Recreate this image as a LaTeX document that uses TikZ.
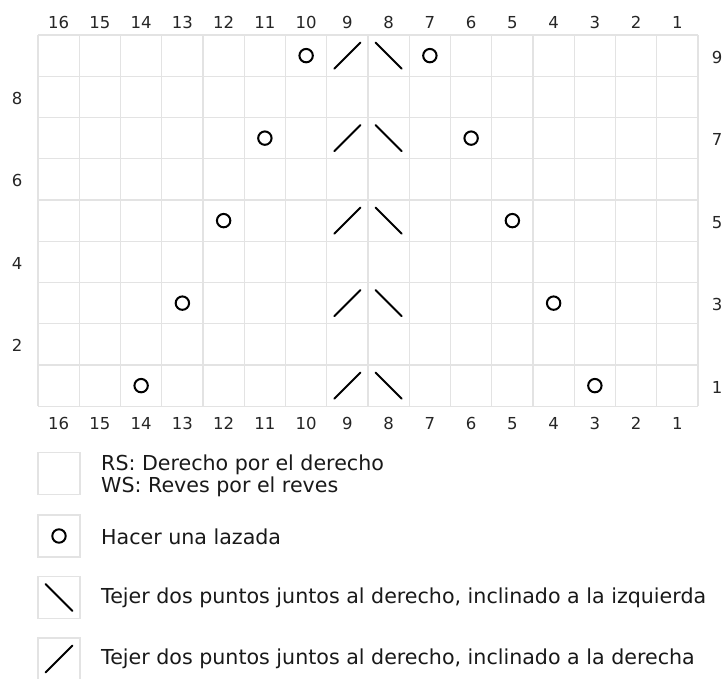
\documentclass[tikz,border=0pt]{standalone}
\usepackage{fontspec}
\setmainfont{DejaVu Sans}
\begin{document}
\begin{tikzpicture}[x=1pt,y=-1pt,
  gridline/.style={draw=black!11,line width=1.4pt},
  numlbl/.style={font=\fontsize{16.5}{19}\selectfont,text=black!85,inner sep=0pt,anchor=base},
  legtext/.style={font=\fontsize{20.6}{22}\selectfont,text=black!90,anchor=west,inner sep=0pt,align=left},
  yo/.style={draw=black,line width=2pt},
  k2/.style={draw=black,line width=2pt,line cap=round},
  legbox/.style={draw=black!11,line width=1.3pt,minimum width=42pt,minimum height=42pt,inner sep=0pt}]
\useasboundingbox (0,0) rectangle (727,678);
\fill[white] (0,0) rectangle (727,678);
\def\cw{41.25}
% grid
\foreach \i in {0,...,16} \draw[gridline] (38+\i*\cw,35) -- (38+\i*\cw,35+9*\cw);
\foreach \j in {0,...,9} \draw[gridline] (38,35+\j*\cw) -- (38+16*\cw,35+\j*\cw);
% column numbers
\foreach \c in {1,...,16} {
  \pgfmathsetmacro\xx{38+\cw*(16-\c+0.5)}
  \node[numlbl] (top\c) at (\xx,28) {\c};
  \node[numlbl] (bot\c) at (\xx,429) {\c};
}
% row numbers
\foreach \r in {9,7,5,3,1} {
  \pgfmathsetmacro\yy{35+\cw*(9-\r+0.5)}
  \node[numlbl] (rr\r) at (717,\yy+7.5) {\r};
}
\foreach \r in {8,6,4,2} {
  \pgfmathsetmacro\yy{35+\cw*(9-\r+0.5)}
  \node[numlbl] (rl\r) at (17,\yy+7.5) {\r};
}
% symbols in chart
\foreach \r/\a/\b in {9/10/7,7/11/6,5/12/5,3/13/4,1/14/3} {
  \pgfmathsetmacro\yy{35+\cw*(9-\r+0.5)}
  \pgfmathsetmacro\xa{38+\cw*(16-\a+0.5)}
  \pgfmathsetmacro\xb{38+\cw*(16-\b+0.5)}
  \draw[yo] (\xa,\yy) circle (6.7);
  \draw[yo] (\xb,\yy) circle (6.7);
  \pgfmathsetmacro\xn{38+\cw*(16-9+0.5)}
  \pgfmathsetmacro\xe{38+\cw*(16-8+0.5)}
  \draw[k2] (\xn-13,\yy+13) -- (\xn+13,\yy-13);
  \draw[k2] (\xe-13,\yy-13) -- (\xe+13,\yy+13);
}
% legend
\node[legbox] (lb1) at (59,473.5) {};
\node[legbox] (lb2) at (59,536) {};
\node[legbox] (lb3) at (59,597.5) {};
\node[legbox] (lb4) at (59,659) {};
\draw[yo] (lb2.center) circle (6.7);
\draw[k2] ([shift={(-13.5,-13.5)}]lb3.center) -- ([shift={(13.5,13.5)}]lb3.center);
\draw[k2] ([shift={(-13.5,13.5)}]lb4.center) -- ([shift={(13.5,-13.5)}]lb4.center);
\node[legtext] (lt1) at (101,476) {RS: Derecho por el derecho\\WS: Reves por el reves};
\node[legtext] (lt2) at (101,537) {Hacer una lazada};
\node[legtext] (lt3) at (101,598) {Tejer dos puntos juntos al derecho, inclinado a la izquierda};
\node[legtext] (lt4) at (101,659) {Tejer dos puntos juntos al derecho, inclinado a la derecha};
\end{tikzpicture}
\end{document}
